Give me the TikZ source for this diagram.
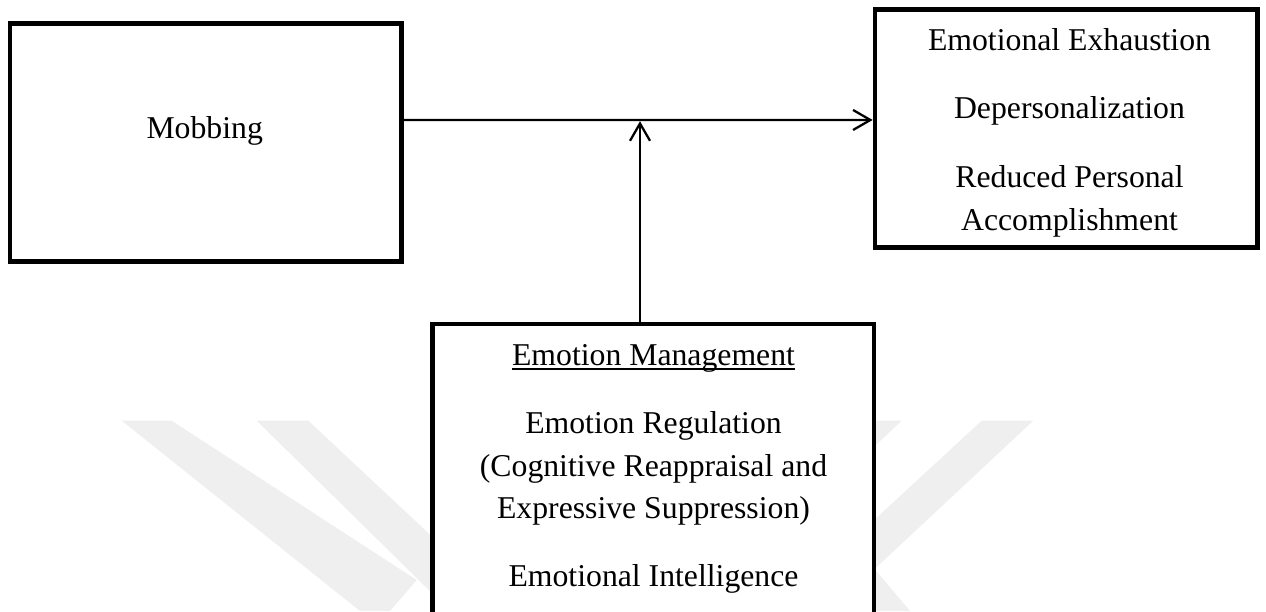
\documentclass[tikz,border=0pt]{standalone}
\usepackage{fontspec}
\setmainfont{Liberation Serif}
\usetikzlibrary{arrows.meta}
\definecolor{wm}{RGB}{239,239,239}
\tikzset{
  boxnode/.style={draw=black, line width=3.5pt, fill=white, rectangle, inner sep=0pt},
  label/.style={anchor=base, inner sep=0pt, font=\fontsize{23.8}{28}\selectfont},
  conn/.style={line width=1.7pt, -{Straight Barb[length=13pt, width=15pt]}},
  wmark/.style={fill=wm, draw=none}
}
\begin{document}
\begin{tikzpicture}[x=0.75pt, y=-0.75pt]
\useasboundingbox (0,0) rectangle (1266,611);
\clip (0,0) rectangle (1266,611);
% faint watermark bands
\fill[wmark] (121.7,420.7) -- (171.7,420.7) -- (416.7,580) -- (390,611) -- (360,611) -- cycle;
\fill[wmark] (256.7,420.7) -- (308.3,420.7) -- (500,600) -- (500,660) -- cycle;
\fill[wmark] (981.7,420.7) -- (1033.3,420.7) -- (820,620) -- (820,570) -- cycle;
\fill[wmark] (850,420.7) -- (901.7,420.7) -- (860,460) -- (850,460) -- cycle;
\fill[wmark] (860,555) -- (878,573) -- (910,611) -- (860,611) -- cycle;
% boxes
\node[boxnode, minimum width=293.8pt, minimum height=178.8pt] (mob) at (205.85,142.5) {};
\node[boxnode, minimum width=286.9pt, minimum height=178.3pt] (out) at (1066.25,128.65) {};
\node[boxnode, minimum width=331.1pt, minimum height=282pt] (mod) at (653.25,512) {};
% texts
\node[label] (tmob) at (204.7,138.3) {Mobbing};
\node[label] (t1) at (1069.5,50) {Emotional Exhaustion};
\node[label] (t2) at (1069.5,118.3) {Depersonalization};
\node[label] (t3) at (1069.5,187.3) {Reduced Personal};
\node[label] (t4) at (1069.5,230) {Accomplishment};
\node[label] (em) at (653.5,365) {Emotion Management};
\draw[line width=1.5pt] ([yshift=-3pt]em.base west) -- ([yshift=-3pt]em.base east);
\node[label] (b1) at (653.5,433.3) {Emotion Regulation};
\node[label] (b2) at (653.5,476) {(Cognitive Reappraisal and};
\node[label] (b3) at (653.5,518.3) {Expressive Suppression)};
\node[label] (b4) at (653.5,586.7) {Emotional Intelligence};
% connectors
\draw[conn] ([yshift=16.9pt]mob.east) -- ([yshift=6.5pt]out.west);
\coordinate (mid) at (640,121.2);
\draw[conn] (mod.north -| mid) -- (mid);
\end{tikzpicture}
\end{document}
